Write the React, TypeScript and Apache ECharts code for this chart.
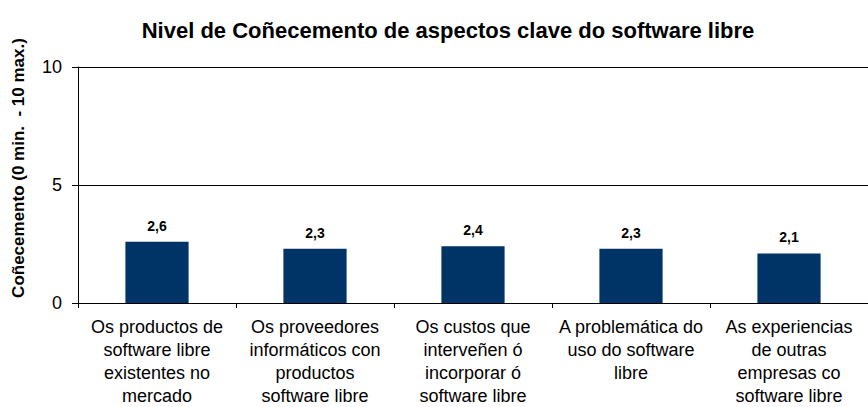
import React, { useEffect, useRef } from "react";
import * as echarts from "echarts";

const categories = [
  "Os productos de\nsoftware libre\nexistentes no\nmercado",
  "Os proveedores\ninformáticos con\nproductos\nsoftware libre",
  "Os custos que\ninterveñen ó\nincorporar ó\nsoftware libre",
  "A problemática do\nuso do software\nlibre",
  "As experiencias\nde outras\nempresas co\nsoftware libre",
];
const values = [2.6, 2.3, 2.4, 2.3, 2.1];
const titleText = "Nivel de Coñecemento de aspectos clave do software libre";
const yName = "Coñecemento (0 min.  - 10 max.)";

export default function App() {
  const ref = useRef<HTMLDivElement>(null);
  useEffect(() => {
    const chart = echarts.init(ref.current!, null, { renderer: "svg" });
    chart.setOption({
      animation: false,
      title: {
        text: titleText,
        left: 443,
        textAlign: "center",
        top: 14,
        textStyle: { fontFamily: "Liberation Sans", fontWeight: "bold", fontSize: 22, color: "#000" },
      },
      graphic: [
        {
          type: "text",
          x: 18,
          y: 168,
          rotation: Math.PI / 2,
          style: {
            text: yName,
            align: "center",
            verticalAlign: "middle",
            fontFamily: "Liberation Sans",
            fontWeight: "bold",
            fontSize: 17,
            fill: "#000",
          },
        },
      ],
      grid: { left: 78, top: 67, width: 793, height: 238, containLabel: false },
      xAxis: {
        type: "category",
        data: categories,
        axisLine: { lineStyle: { color: "#000" } },
        axisTick: { show: true, length: 5, lineStyle: { color: "#000" } },
        axisLabel: {
          interval: 0,
          margin: 12,
          color: "#000",
          fontFamily: "Liberation Sans",
          fontSize: 18,
          lineHeight: 23,
        },
      },
      yAxis: {
        type: "value",
        min: 0,
        max: 10,
        interval: 5,
        axisLine: { show: true, lineStyle: { color: "#000" } },
        axisTick: { show: true, length: 6, lineStyle: { color: "#000" } },
        splitLine: { show: true, lineStyle: { color: "#000", width: 1 } },
        axisLabel: { color: "#000", fontFamily: "Liberation Sans", fontSize: 18, margin: 16 },
      },
      series: [
        {
          type: "bar",
          data: values,
          barWidth: "40%",
          itemStyle: { color: "#003366" },
          label: {
            show: true,
            position: "top",
            distance: 9,
            formatter: (p: any) => String(p.value).replace(".", ","),
            fontFamily: "Liberation Sans",
            fontWeight: "bold",
            fontSize: 14,
            color: "#000",
          },
        },
      ],
    });
    return () => chart.dispose();
  }, []);
  return <div ref={ref} style={{ width: 868, height: 407, position: "absolute", left: 0, top: 0 }} />;
}
